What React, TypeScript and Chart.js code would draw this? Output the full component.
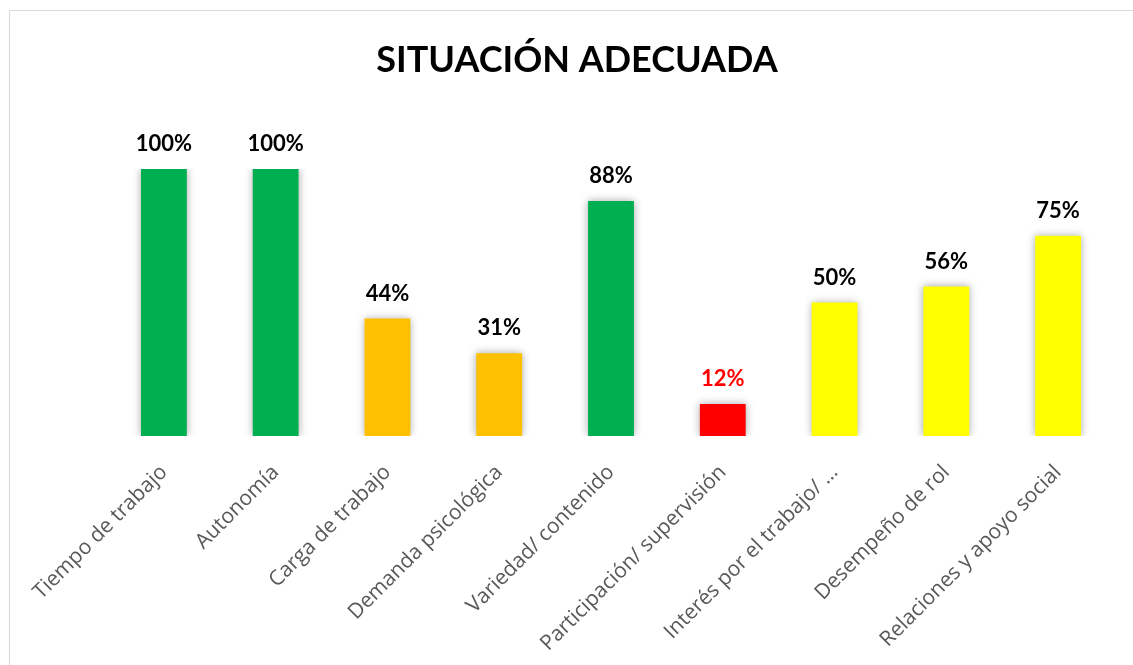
import React, { useEffect, useRef } from "react";
import { Chart, registerables } from "chart.js";

Chart.register(...registerables);

const categories = [
  "Tiempo de trabajo",
  "Autonomía",
  "Carga de trabajo",
  "Demanda psicológica",
  "Variedad/ contenido",
  "Participación/ supervisión",
  "Interés por el trabajo/ …",
  "Desempeño de rol",
  "Relaciones y apoyo social",
];
const values = [100, 100, 44, 31, 88, 12, 50, 56, 75];
const barColors = ["#00B050", "#00B050", "#FFC000", "#FFC000", "#00B050", "#FF0000", "#FFFF00", "#FFFF00", "#FFFF00"];
const labelColors = ["#000000", "#000000", "#000000", "#000000", "#000000", "#FF0000", "#000000", "#000000", "#000000"];
const titleText = "SITUACIÓN ADECUADA";

const shadowPlugin = {
  id: "barShadow",
  beforeDatasetsDraw(chart: any) {
    const ctx = chart.ctx;
    ctx.save();
    ctx.shadowColor = "rgba(0,0,0,0.35)";
    ctx.shadowBlur = 8;
    ctx.shadowOffsetX = 0;
    ctx.shadowOffsetY = 0;
  },
  afterDatasetsDraw(chart: any) {
    chart.ctx.restore();
  },
};

const labelPlugin = {
  id: "valueLabels",
  afterDraw(chart: any) {
    const ctx = chart.ctx;
    const meta = chart.getDatasetMeta(0);
    ctx.save();
    ctx.font = "bold 22px Lato";
    ctx.textAlign = "center";
    ctx.textBaseline = "bottom";
    meta.data.forEach((bar: any, i: number) => {
      ctx.fillStyle = labelColors[i];
      ctx.fillText(Math.round(values[i]) + "%", bar.x, bar.y - 14);
    });
    ctx.font = "bold 36px Lato";
    ctx.fillStyle = "#000000";
    ctx.textBaseline = "alphabetic";
    ctx.fillText(titleText, chart.width / 2, 61);
    ctx.restore();
  },
};

export default function App() {
  const ref = useRef<HTMLCanvasElement | null>(null);
  useEffect(() => {
    if (!ref.current) return;
    const chart = new Chart(ref.current, {
      type: "bar",
      data: {
        labels: categories,
        datasets: [
          {
            data: values,
            backgroundColor: barColors,
            borderWidth: 0,
            categoryPercentage: 1,
            barPercentage: 0.41,
          },
        ],
      },
      options: {
        animation: false,
        responsive: true,
        maintainAspectRatio: false,
        layout: { padding: { top: 158, left: 98, right: 30, bottom: 0 } },
        plugins: { legend: { display: false }, title: { display: false }, tooltip: { enabled: false } },
        scales: {
          y: { display: false, min: 0, max: 100 },
          x: {
            grid: { display: false },
            border: { display: false },
            afterFit: (scale: any) => {
              scale.height = 230;
            },
            ticks: {
              autoSkip: false,
              minRotation: 45,
              maxRotation: 45,
              padding: 16,
              color: "#595959",
              font: { family: "'Open Sans', sans-serif", size: 21 },
            },
          },
        },
      },
      plugins: [shadowPlugin, labelPlugin],
    });
    return () => chart.destroy();
  }, []);
  return (
    <div
      style={{
        position: "fixed",
        left: 9,
        top: 10,
        width: 1134,
        height: 655,
        borderTop: "1px solid #d9d9d9",
        borderLeft: "1px solid #d9d9d9",
        background: "#fff",
      }}
    >
      <canvas ref={ref} />
    </div>
  );
}
